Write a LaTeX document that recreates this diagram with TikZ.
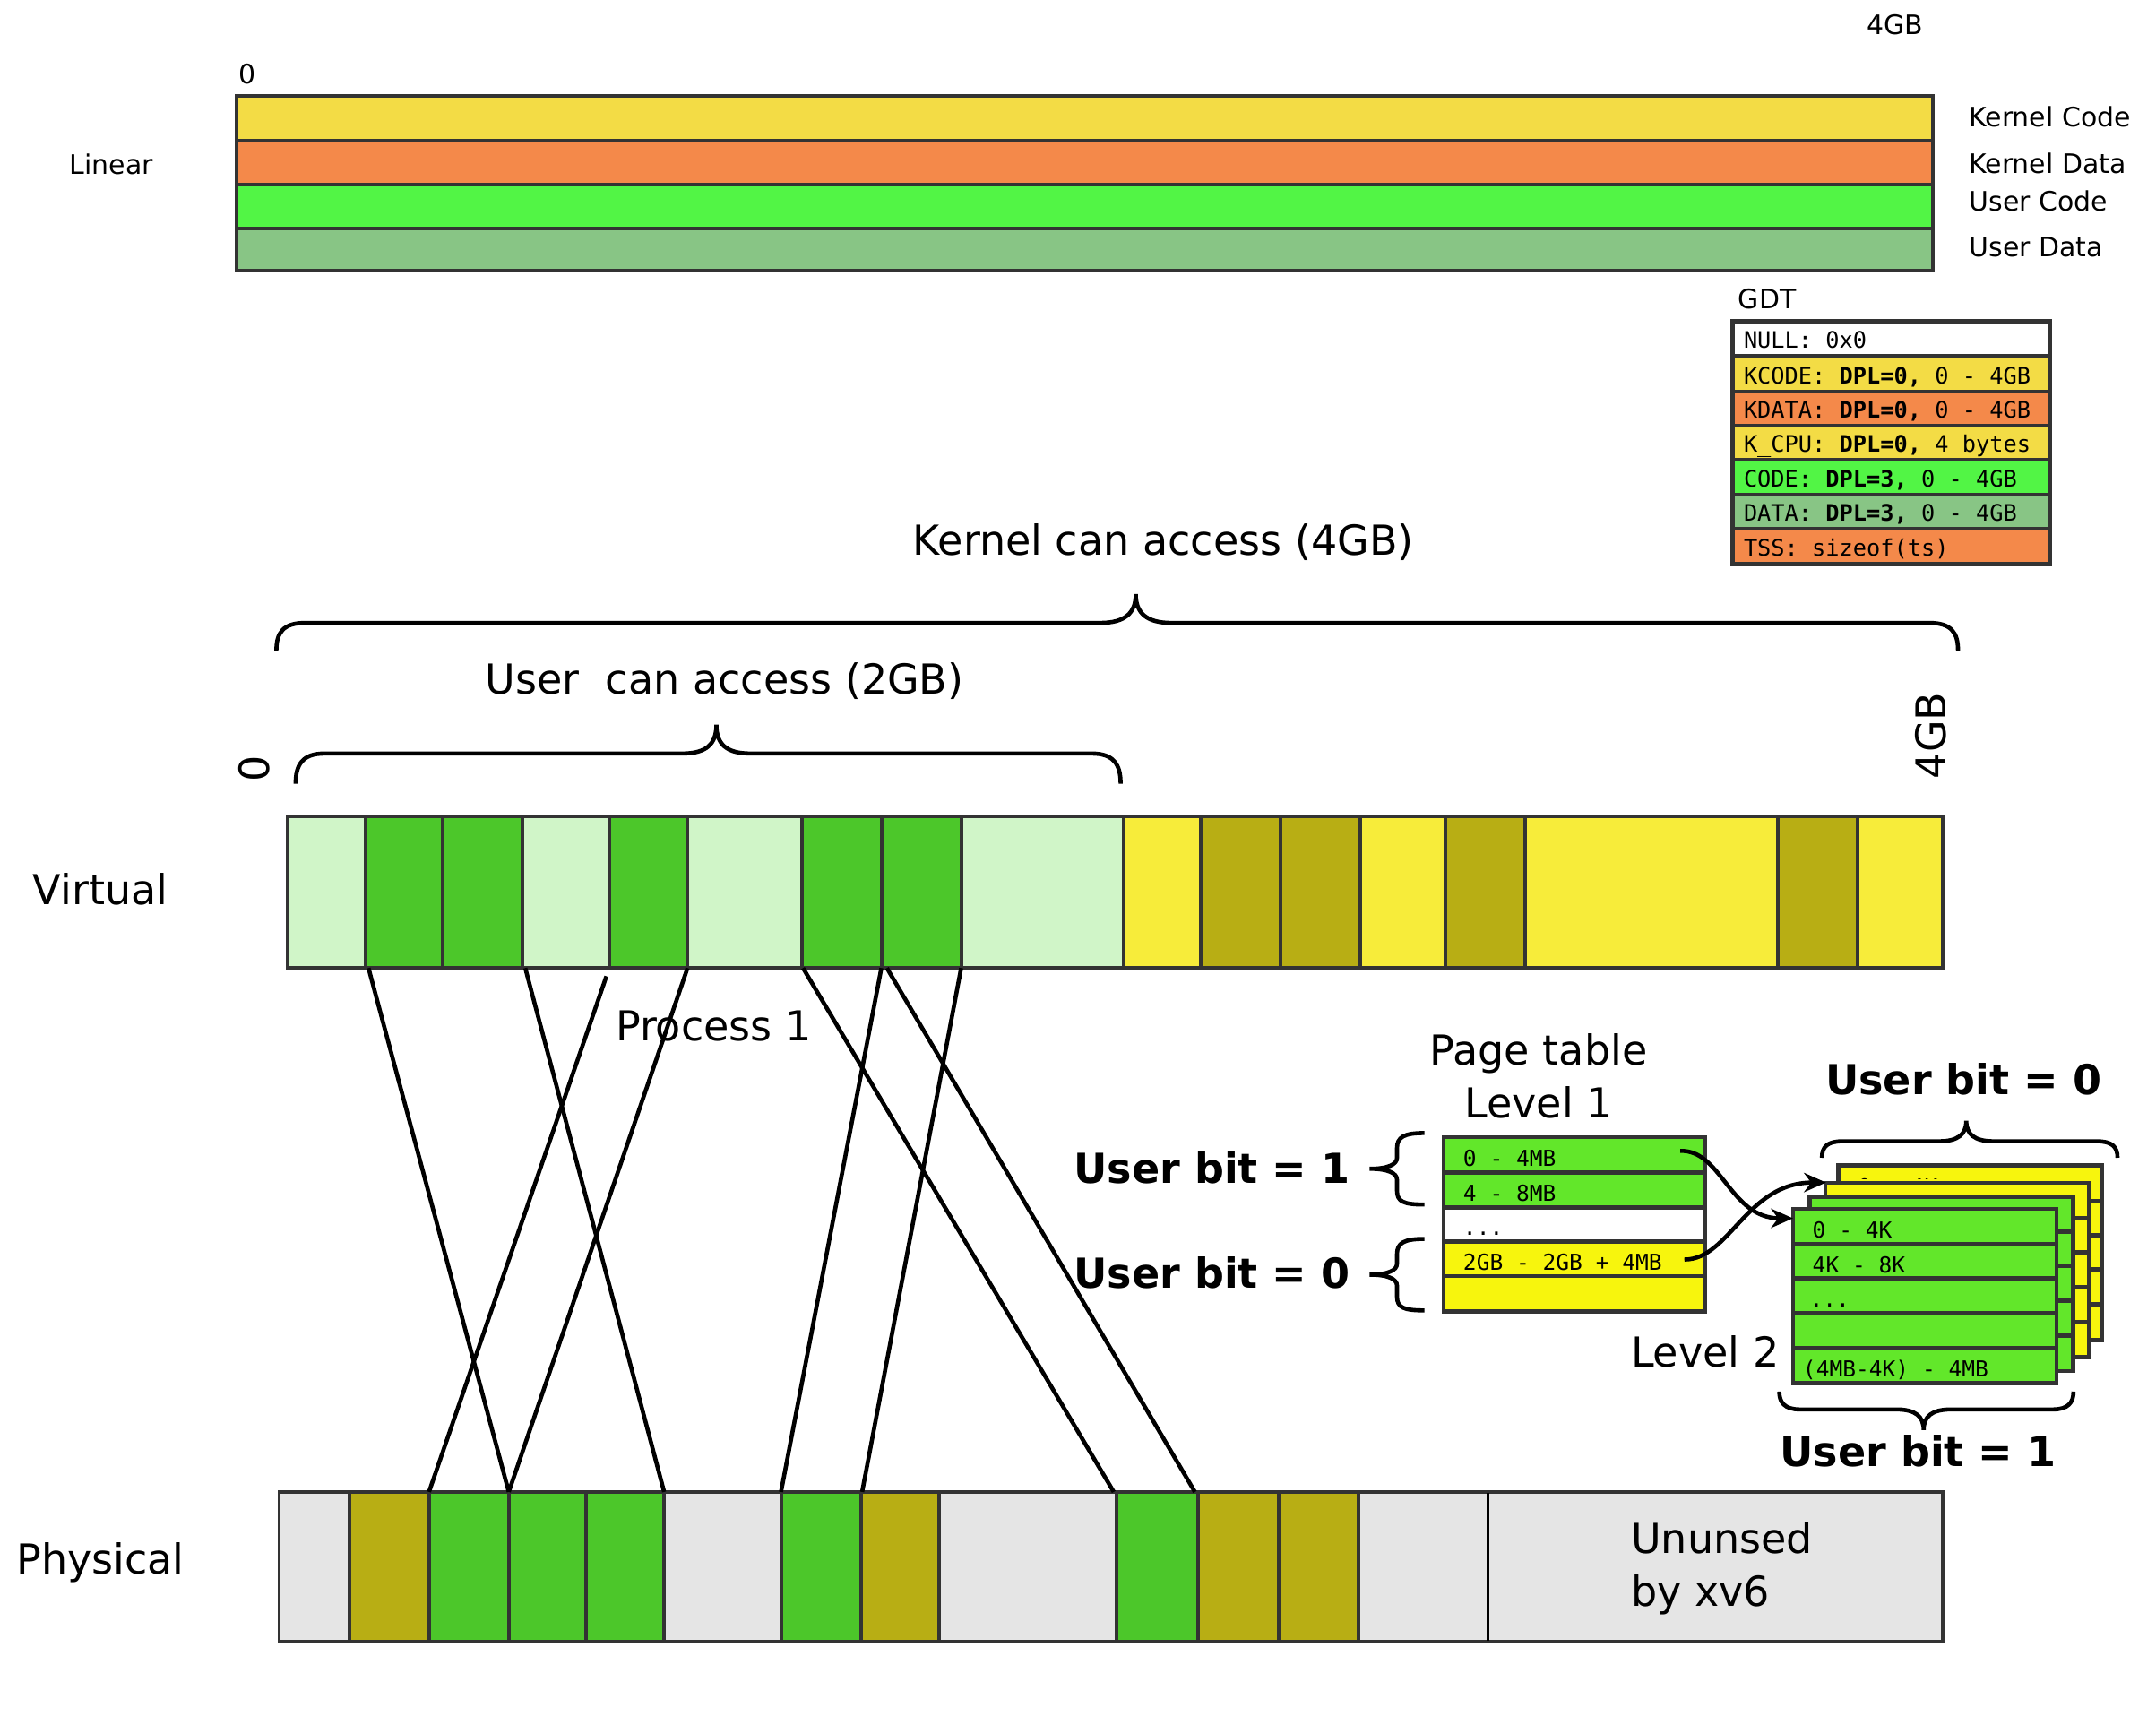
\documentclass[tikz,border=0pt]{standalone}
\usepackage{fontspec}
\setmainfont{DejaVu Sans}
\setmonofont{DejaVu Sans Mono}
\usetikzlibrary{arrows.meta}
\definecolor{kcode}{HTML}{F3DC45}
\definecolor{kdata}{HTML}{F4894A}
\definecolor{ucode}{HTML}{52F545}
\definecolor{udata}{HTML}{88C585}
\definecolor{lgreen}{HTML}{D0F5C8}
\definecolor{mgreen}{HTML}{4CC72A}
\definecolor{vyellow}{HTML}{F7EC3A}
\definecolor{olive}{HTML}{B8AE14}
\definecolor{pgray}{HTML}{E5E5E5}
\definecolor{ptgreen}{HTML}{62E72A}
\definecolor{ptyellow}{HTML}{F7F50D}
\definecolor{border}{HTML}{333333}
\begin{document}
\begin{tikzpicture}[x=1pt,y=-1pt,
  lblbig/.style={font=\fontsize{30}{36}\selectfont, inner sep=0pt, anchor=base},
  lblsmall/.style={font=\fontsize{19.5}{24}\selectfont, inner sep=0pt, anchor=base west},
  monotxt/.style={font=\ttfamily\fontsize{16.5}{20}\selectfont, inner sep=0pt, anchor=base west},
  ptmono/.style={font=\ttfamily\fontsize{16}{20}\selectfont, inner sep=0pt, anchor=base west},
  ubit/.style={font=\bfseries\fontsize{30}{36}\selectfont, inner sep=0pt, anchor=base},
  cell/.style={draw=border, line width=2.6pt},
  tcell/.style={draw=border, line width=3pt},
  mapline/.style={draw=black, line width=3pt},
  bracepath/.style={draw=black, line width=3pt},
  ptr/.style={draw=black, line width=3pt, -{Stealth[length=16pt,width=14pt]}},
]
\useasboundingbox (0,0) rectangle (1568,1254);

% ---------------- Linear ----------------
\node[lblsmall, anchor=base] (zeroL) at (180,61) {0};
\node[lblsmall, anchor=base] (fourL) at (1378,25) {4GB};
\node[lblsmall, anchor=base] (linear) at (81,127) {Linear};
\path[cell, fill=kcode] (172,70) rectangle (1406,102);
\path[cell, fill=kdata] (172,102) rectangle (1406,134);
\path[cell, fill=ucode] (172,134) rectangle (1406,166);
\path[cell, fill=udata] (172,166) rectangle (1406,197);
\node[lblsmall] (kc) at (1432,92.5) {Kernel Code};
\node[lblsmall] (kd) at (1432,125.8) {Kernel Data};
\node[lblsmall] (uc) at (1432,153.2) {User Code};
\node[lblsmall] (ud) at (1432,187) {User Data};

% ---------------- GDT ----------------
\node[lblsmall] (gdt) at (1264,224.8) {GDT};
\foreach \t/\b/\c in {234/259/white, 259/284.5/kcode, 284.5/309.5/kdata,
  309.5/334.5/kcode, 334.5/359.5/ucode, 359.5/384.5/udata, 384.5/410/kdata}
  \path[draw=border, line width=2.6pt, fill=\c] (1260,\t) rectangle (1491,\b);
\draw[border, line width=3.4pt] (1260,234) rectangle (1491,410);
\foreach \b/\txt/\i in {
  259/{NULL: 0x0}/1,
  284.5/{KCODE: \textbf{DPL=0,} 0 - 4GB}/2,
  309.5/{KDATA: \textbf{DPL=0,} 0 - 4GB}/3,
  334.5/{K\_CPU: \textbf{DPL=0,} 4 bytes}/4,
  359.5/{CODE: \textbf{DPL=3,} 0 - 4GB}/5,
  384.5/{DATA: \textbf{DPL=3,} 0 - 4GB}/6,
  410/{TSS: sizeof(ts)}/7}
  \node[monotxt] (gdtrow\i) at (1268,\b-5.5) {\txt};

% ---------------- Braces above virtual ----------------
\node[lblbig] (kacc) at (846,404) {Kernel can access (4GB)};
\draw[bracepath] (201,473) .. controls (201,460) and (206,453) .. (222,453) -- (800,453)
  .. controls (818,453) and (826,446) .. (826,432)
  .. controls (826,446) and (834,453) .. (852,453) -- (1403,453)
  .. controls (1419,453) and (1424,460) .. (1424,473);
\node[lblbig] (uacc) at (527,505) {User\ \ can access (2GB)};
\draw[bracepath] (215,570) .. controls (215,556) and (220,548) .. (236,548) -- (496,548)
  .. controls (514,548) and (521,541) .. (521,527)
  .. controls (521,541) and (528,548) .. (546,548) -- (794,548)
  .. controls (810,548) and (815,556) .. (815,570);
\node[font=\fontsize{30}{36}\selectfont, inner sep=0pt, rotate=90] (zeroV) at (185,559) {0};
\node[font=\fontsize{30}{36}\selectfont, inner sep=0pt, rotate=90] (fourV) at (1404,535) {4GB};

% ---------------- Virtual ----------------
\node[lblbig] (virtual) at (73,658) {Virtual};
\foreach \a/\b/\c in {209/266/lgreen, 266/322/mgreen, 322/380/mgreen, 380/443/lgreen,
  443/500/mgreen, 500/583/lgreen, 583/641/mgreen, 641/699/mgreen, 699/817/lgreen,
  817/873/vyellow, 873/931/olive, 931/989/olive, 989/1051/vyellow, 1051/1109/olive,
  1109/1293/vyellow, 1293/1351/olive, 1351/1413/vyellow}
  \path[cell, fill=\c] (\a,594) rectangle (\b,704);

% ---------------- Physical ----------------
\node[lblbig] (physical) at (73,1145) {Physical};
\foreach \a/\b/\c in {203/254/pgray, 254/312/olive, 312/370/mgreen, 370/426/mgreen,
  426/483/mgreen, 483/568/pgray, 568/626/mgreen, 626/683/olive, 683/812/pgray,
  812/871/mgreen, 871/930/olive, 930/988/olive, 988/1413/pgray}
  \path[cell, fill=\c] (\a,1085) rectangle (\b,1194);
\draw[black, line width=1.6pt] (1082,1086) -- (1082,1193);
\node[lblbig, anchor=base west] (unused1) at (1186,1130) {Ununsed};
\node[lblbig, anchor=base west] (unused2) at (1186,1168) {by xv6};

% ---------------- Mapping lines ----------------
\coordinate (va) at (268,704);  \coordinate (pa) at (370,1085);
\coordinate (vb) at (382,704);  \coordinate (pb) at (483,1085);
\coordinate (vc) at (441,710);  \coordinate (pc) at (312,1085);
\coordinate (vd) at (500,704);  \coordinate (pd) at (370,1085);
\coordinate (ve) at (584,704);  \coordinate (pe) at (810,1085);
\coordinate (vf) at (641,704);  \coordinate (pf) at (568,1085);
\coordinate (vg) at (645,704);  \coordinate (pg) at (869,1085);
\coordinate (vh) at (699,704);  \coordinate (ph) at (627,1085);
\foreach \m in {a,b,c,d,e,f,g,h}
  \draw[mapline] (v\m) -- (p\m);
\node[lblbig] (proc) at (519,757) {Process 1};

% ---------------- Page table level 1 ----------------
\node[lblbig] (ptl) at (1119,774.5) {Page table};
\node[lblbig] (lvl1) at (1119,813) {Level 1};
\foreach \t/\b/\c/\txt/\i in {
  827/852.7/ptgreen/{0 - 4MB}/1,
  852.7/878/ptgreen/{4 - 8MB}/2,
  878/903/white/{...}/3,
  903/928/ptyellow/{2GB - 2GB + 4MB}/4,
  928/953.7/ptyellow/{}/5} {
  \path[tcell, fill=\c] (1050,\t) rectangle (1240,\b);
  \node[ptmono] (lone\i) at (1064,\b-4.4) {\txt};
}
\node[ubit, anchor=base east] (ub1a) at (982,860.7) {User bit = 1};
\node[ubit, anchor=base east] (ub0a) at (982,937) {User bit = 0};
\draw[bracepath] (1036,824) .. controls (1021,824) and (1016,827) .. (1016,835) -- (1016,842)
  .. controls (1016,847) and (1009,850) .. (996,850)
  .. controls (1009,850) and (1016,853) .. (1016,858) -- (1016,866)
  .. controls (1016,874) and (1021,876) .. (1036,876);
\draw[bracepath] (1036,901) .. controls (1021,901) and (1016,904) .. (1016,912) -- (1016,919)
  .. controls (1016,924) and (1009,927) .. (996,927)
  .. controls (1009,927) and (1016,930) .. (1016,935) -- (1016,943)
  .. controls (1016,951) and (1021,953) .. (1036,953);

% ---------------- Page table level 2 ----------------
\foreach \dx/\dy/\c/\k in {33/-31.5/ptyellow/4, 23.5/-19/ptyellow/3, 12/-9/ptgreen/2} {
  \begin{scope}[shift={(\dx,\dy)}]
    \foreach \t/\b in {879.2/904.8, 904.8/929.8, 929.8/954.8, 954.8/980.2, 980.2/1006}
      \path[tcell, fill=\c] (1304,\t) rectangle (1495.6,\b);
    \begin{scope}
      \clip (1304,879.2) rectangle (1495.6,889);
      \node[ptmono] (ltwo\k) at (1318,900.5) {0 - 4K};
    \end{scope}
  \end{scope}
}
\foreach \t/\b in {879.2/904.8, 904.8/929.8, 929.8/954.8, 954.8/980.2, 980.2/1006}
  \path[tcell, fill=ptgreen] (1304,\t) rectangle (1495.6,\b);
\node[ptmono] (ltwoa) at (1318,900.5) {0 - 4K};
\node[ptmono] (ltwob) at (1318,925.5) {4K - 8K};
\node[ptmono] (ltwoc) at (1316,950.5) {...};
\node[ptmono] (ltwoe) at (1311,1001.6) {(4MB-4K) - 4MB};
\node[lblbig] (lvl2) at (1240,994) {Level 2};
\node[ubit] (ub0b) at (1428,796) {User bit = 0};
\node[ubit] (ub1b) at (1395,1066.7) {User bit = 1};
\draw[bracepath] (1325,842) .. controls (1325,834) and (1329,830) .. (1340,830) -- (1410,830)
  .. controls (1424,830) and (1430,825) .. (1430,815)
  .. controls (1430,825) and (1436,830) .. (1450,830) -- (1525,830)
  .. controls (1536,830) and (1540,834) .. (1540,842);
\draw[bracepath] (1294,1012) .. controls (1294,1020) and (1298,1025) .. (1309,1025) -- (1379,1025)
  .. controls (1393,1025) and (1399,1030) .. (1399,1040)
  .. controls (1399,1030) and (1405,1025) .. (1419,1025) -- (1493,1025)
  .. controls (1504,1025) and (1508,1020) .. (1508,1012);

% ---------------- Pointers ----------------
\coordinate (s1) at (1222,837);
\coordinate (e1) at (1304,886);
\coordinate (s2) at (1225,916);
\coordinate (e2) at (1328,860);
\draw[ptr] (s1) .. controls (1252,836) and (1258,886) .. (e1);
\draw[ptr] (s2) .. controls (1258,916) and (1270,860) .. (e2);
\end{tikzpicture}
\end{document}
